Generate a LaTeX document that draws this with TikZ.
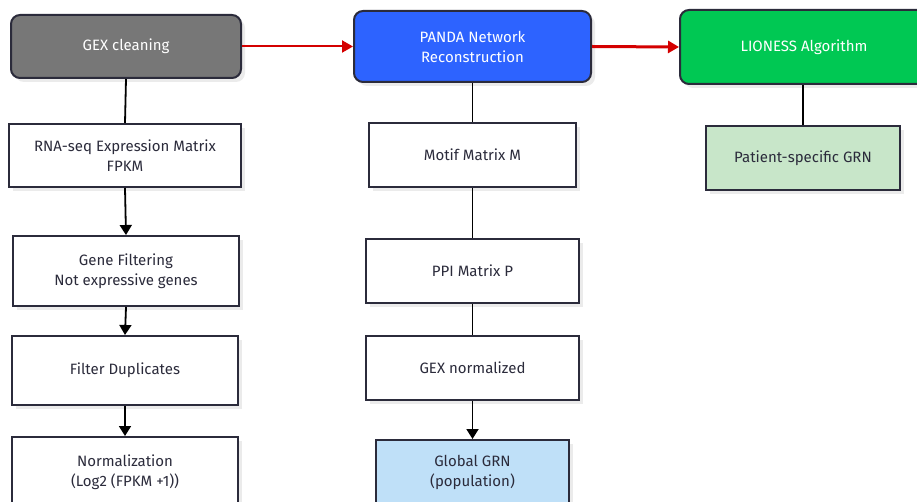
\documentclass[tikz,border=0pt]{standalone}
\usepackage{fontspec}
\setmainfont{Fira Sans}
\usetikzlibrary{arrows.meta,shadows}
\definecolor{ink}{HTML}{2B2B3B}
\definecolor{stagegray}{HTML}{777777}
\definecolor{stageblue}{HTML}{2D63FF}
\definecolor{stagegreen}{HTML}{00C853}
\definecolor{flowred}{HTML}{D40000}
\definecolor{popblue}{HTML}{BFE0F8}
\definecolor{patgreen}{HTML}{C8E6C9}
\tikzset{
  x=1pt, y=-1pt,
  box/.style={draw=ink, line width=2pt, fill=white, text=ink, align=center,
    font=\fontsize{15}{20}\selectfont, inner sep=0pt,
    drop shadow={shadow xshift=4pt, shadow yshift=-4pt, fill=black!8, opacity=1}},
  stage/.style={box, rounded corners=9pt, text=white},
  link/.style={draw=black, line width=1.8pt},
  flow/.style={link, -{Triangle[width=12pt,length=10pt]}},
  redflow/.style={draw=flowred, line width=2pt, -{Triangle[width=12pt,length=11pt]}},
}
\begin{document}
\begin{tikzpicture}
\useasboundingbox (0,0) rectangle (917,502);
\clip (0,0) rectangle (917,502);
\fill[white] (0,0) rectangle (917,502);

% top row: pipeline stages
\node[stage, fill=stagegray, minimum width=230pt, minimum height=63pt] (gex) at (126,46.5) {GEX cleaning};
\node[stage, fill=stageblue, minimum width=237pt, minimum height=71pt] (panda) at (472.5,46.5) {PANDA Network\\Reconstruction};
\node[stage, fill=stagegreen, minimum width=248pt, minimum height=74pt] (lioness) at (804,47) {LIONESS Algorithm};

% left column: expression preprocessing
\node[box, minimum width=232pt, minimum height=63pt] (rna) at (125,155.5) {RNA-seq Expression Matrix\\FPKM};
\node[box, minimum width=226pt, minimum height=70pt] (genefilt) at (126,271) {Gene Filtering\\Not expressive genes};
\node[box, minimum width=226pt, minimum height=69pt] (dups) at (125,370.5) {Filter Duplicates};
\node[box, minimum width=226pt, minimum height=70pt] (norm) at (125,472) {Normalization\\(Log2 (FPKM +1))};

% middle column: PANDA inputs
\node[box, minimum width=207pt, minimum height=64pt] (motif) at (472.5,155) {Motif Matrix M};
\node[box, minimum width=213pt, minimum height=64pt] (ppi) at (472.5,271) {PPI Matrix P};
\node[box, minimum width=213pt, minimum height=64pt] (gexnorm) at (472.5,368) {GEX normalized};
\node[box, fill=popblue, minimum width=193pt, minimum height=64pt] (global) at (472.5,472) {Global GRN\\(population)};

% right column
\node[box, fill=patgreen, minimum width=194pt, minimum height=64pt] (patient) at (803,158) {Patient-specific GRN};

% connectors
\draw[redflow] (gex.east) -- (panda.west);
\draw[redflow, line width=3pt] (panda.east) -- (lioness.west);

\draw[link] (gex.south) -- (rna.north);
\draw[flow] (rna.south) -- (genefilt.north);
\draw[flow] (genefilt.south) -- (dups.north);
\draw[flow] (dups.south) -- (norm.north);

\draw[link] (panda.south) -- (motif.north);
\draw[link] (motif.south) -- (ppi.north);
\draw[link] (ppi.south) -- (gexnorm.north);
\draw[flow] (gexnorm.south) -- (global.north);

\draw[link] (lioness.south -| patient.north) -- (patient.north);
\end{tikzpicture}
\end{document}
